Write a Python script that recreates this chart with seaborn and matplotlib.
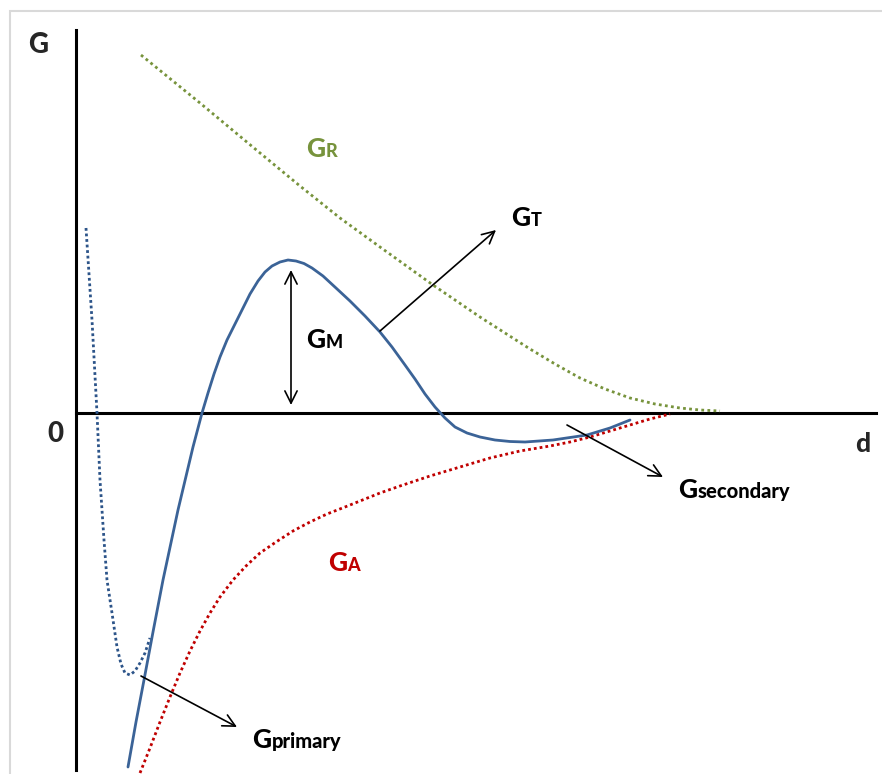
import matplotlib
matplotlib.use("Agg")
import matplotlib.pyplot as plt
from matplotlib.patches import Rectangle
import seaborn as sns

# Separation distance d and free energy G (arbitrary units, origin at the axes crossing)
d_repulsive = [65, 124, 178, 224, 264, 304, 357, 404, 454, 479, 504, 529, 554,
               579, 604, 624, 644]
g_repulsive = [358, 310, 265, 227, 195, 166, 128, 96, 64, 49, 35, 24, 15, 9, 5, 3, 2]

d_attractive = [64, 74, 84, 94, 104, 114, 124, 134, 144, 157, 170, 184, 200, 217,
                234, 251, 269, 284, 304, 324, 354, 384, 414, 444, 474, 494, 514,
                534, 554, 574, 594]
g_attractive = [-360, -335, -309, -284, -260, -238, -218, -200, -184, -167, -153,
                -140, -129, -118, -109, -101, -94, -88, -80, -73, -63, -54, -45,
                -38, -33, -29, -24, -18, -12, -6, -1]

d_total = [52, 60, 68, 77, 87, 102, 117, 126, 132, 138, 144, 151, 158, 165, 174,
           182, 189, 196, 204, 212, 220, 228, 236, 247, 260, 274, 289, 304, 316,
           329, 339, 349, 359, 369, 379, 391, 404, 419, 434, 449, 477, 511, 534, 554]
g_total = [-354, -309, -267, -219, -167, -97, -34, 0, 20, 39, 56, 73, 87, 101,
           119, 132, 141, 147, 151, 153, 152, 149.5, 145, 137, 125, 112, 97, 81,
           66, 48, 34, 19, 6, -5, -14, -20, -24, -27, -28.5, -29, -27, -22, -15, -7]

# Short-range part of the total curve (primary minimum)
d_primary = [10, 16, 21, 24, 28, 31, 36, 41, 45, 49, 54, 59, 64, 69, 74]
g_primary = [185, 93, 0, -67, -127, -167, -200, -234, -251, -260, -262, -258,
             -250, -240, -225]

# Callout arrows: (start, end)
arrow_gm = ((215, 8), (215, 143))
arrow_gt = ((304, 82), (420, 183))
arrow_secondary = ((491, -12), (587, -64))
arrow_primary = ((65, -263), (161, -314))

# Curve labels: (x, baseline, subscript, colour, subscript size)
labels = [
    (230, 256, "R", "#77933C", 13),
    (435, 187, "T", "black", 13),
    (230, 65, "M", "black", 13),
    (602, -85, "secondary", "black", 14.5),
    (252, -158, "A", "#C00000", 13),
    (176, -335, "primary", "black", 14.5),
]

GREEN = "#77933C"
RED = "#C00000"
BLUE = "#3B6397"
BLUE_DOT = "#2C5489"

sns.set_theme(style="white")
plt.rcParams["font.family"] = ["Lato", "DejaVu Sans"]

fig = plt.figure(figsize=(8.82, 7.74), dpi=100)
ax = fig.add_axes([0, 0, 1, 1])
ax.set_xlim(-76, 806)
ax.set_ylim(-361, 413)
ax.set_xticks([])
ax.set_yticks([])
ax.set_facecolor("white")

# Axes drawn through the origin
for side in ("top", "right"):
    ax.spines[side].set_visible(False)
ax.spines["left"].set_position(("data", 0))
ax.spines["bottom"].set_position(("data", 0))
ax.spines["left"].set_bounds(-357, 383)
ax.spines["bottom"].set_bounds(0, 800)
for side in ("left", "bottom"):
    ax.spines[side].set_color("black")
    ax.spines[side].set_linewidth(2.2)
    ax.spines[side].set_zorder(1)

sns.lineplot(x=d_repulsive, y=g_repulsive, ax=ax, color=GREEN, linewidth=2.0,
             linestyle=(0, (1, 1.2)), sort=False, estimator=None, zorder=3)
sns.lineplot(x=d_attractive, y=g_attractive, ax=ax, color=RED, linewidth=2.0,
             linestyle=(0, (1, 1.1)), sort=False, estimator=None, zorder=3)
sns.lineplot(x=d_primary, y=g_primary, ax=ax, color=BLUE_DOT, linewidth=2.0,
             linestyle=(0, (1, 1)), sort=False, estimator=None, zorder=3)
sns.lineplot(x=d_total, y=g_total, ax=ax, color=BLUE, linewidth=2.0,
             sort=False, estimator=None, zorder=4)

arrow_kw = dict(color="black", lw=1.2, mutation_scale=22, shrinkA=0, shrinkB=0)
ax.annotate("", xy=arrow_gm[1], xytext=arrow_gm[0],
            arrowprops=dict(arrowstyle="<->", **arrow_kw), zorder=5)
for start, end in (arrow_gt, arrow_secondary, arrow_primary):
    ax.annotate("", xy=end, xytext=start,
                arrowprops=dict(arrowstyle="->", **arrow_kw), zorder=5)

# Axis labels
bold = 900
ax.text(-48, 360, "G", fontsize=20, fontweight=bold, ha="left", va="baseline")
ax.text(-29, -29, "0", fontsize=20, fontweight=bold, ha="left", va="baseline")
ax.text(779, -39, "d", fontsize=19, fontweight=bold, ha="left", va="baseline")

renderer = fig.canvas.get_renderer()
inv = ax.transData.inverted()
for x, y, sub, color, size in labels:
    t = ax.text(x, y, "G", fontsize=19, fontweight=bold, color=color,
                ha="left", va="baseline")
    bb = t.get_window_extent(renderer)
    x_end = inv.transform((bb.x1, 0))[0]
    ax.text(x_end + 0.5, y, sub, fontsize=size, fontweight=bold, color=color,
            ha="left", va="baseline")

# Light frame around the drawing
fig.add_artist(Rectangle((9.5 / 882, -0.05), 1.2, 1 - 10.5 / 774 + 0.05,
                         transform=fig.transFigure, fill=False,
                         edgecolor="#D9D9D9", linewidth=1.5, zorder=10))

fig.savefig("out.png", dpi=100)
